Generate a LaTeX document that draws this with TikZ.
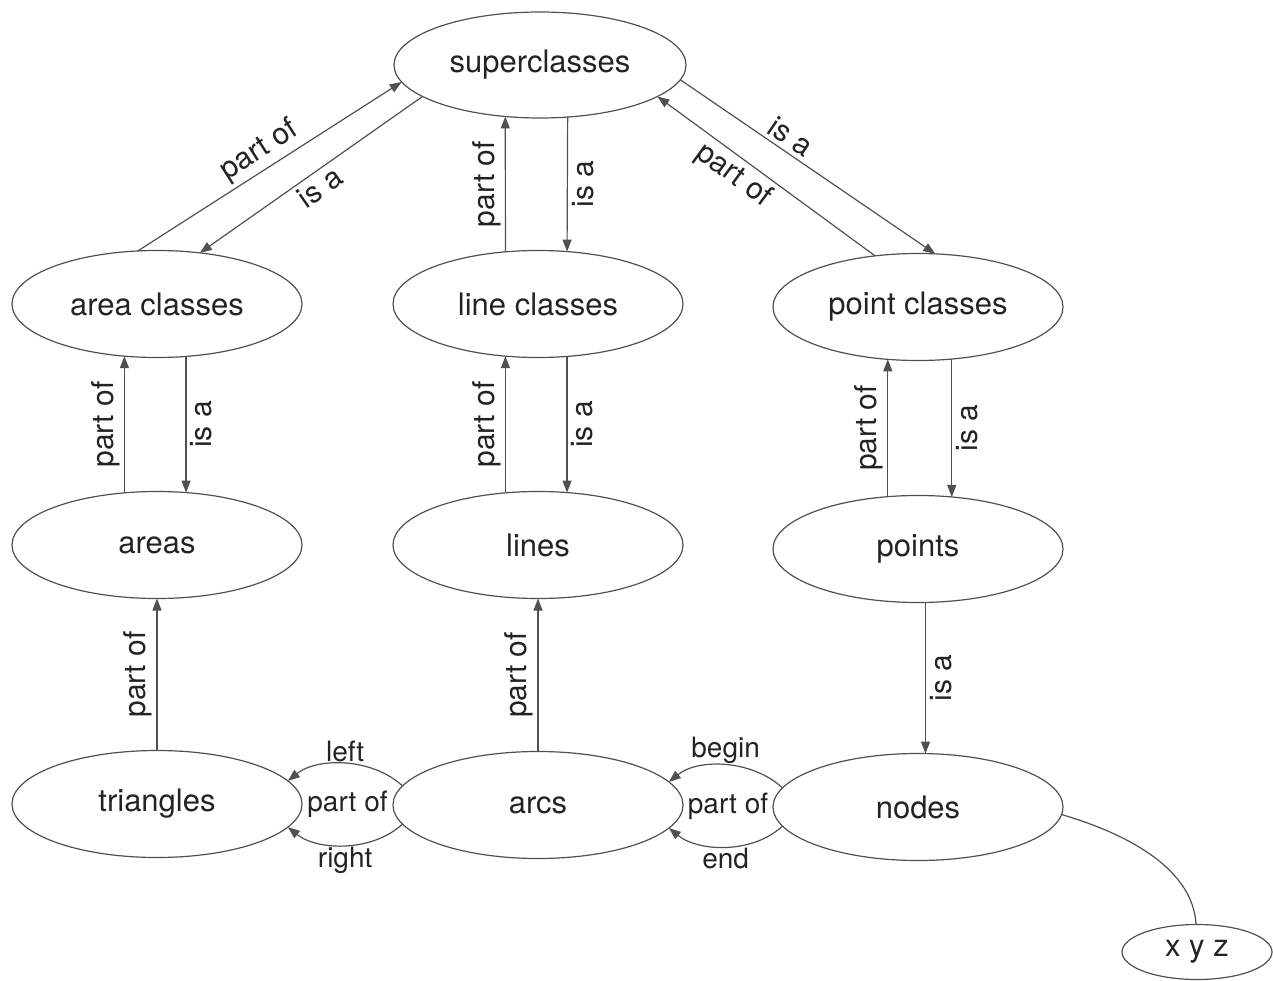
\documentclass[tikz,border=0pt]{standalone}
\usepackage{fontspec}
\setmainfont{TeX Gyre Heros}
\usetikzlibrary{shapes.geometric,arrows.meta,calc}
\definecolor{linegray}{RGB}{80,80,80}
\definecolor{textdark}{RGB}{35,35,35}
\begin{document}
\begin{tikzpicture}[x=1pt,y=-1pt,
  ent/.style={ellipse, draw=linegray, line width=1.2pt, inner sep=0pt, outer sep=0pt,
    minimum width=290pt, minimum height=107pt, text=textdark,
    font=\fontsize{31}{37}\selectfont},
  conn/.style={draw=linegray, line width=1.2pt},
  arr/.style={conn, -{Triangle[length=12pt,width=9pt]}},
  lbl/.style={font=\fontsize{30}{36}\selectfont, text=textdark, inner sep=4pt},
  sm/.style={font=\fontsize{28}{33}\selectfont, text=textdark, inner sep=1pt},
]
\useasboundingbox (0,0) rectangle (1273,981);

% entities
\node[ent, minimum width=292pt, minimum height=106pt] (sup) at (540,65) {superclasses};
\node[ent] (ac) at (157,304) {area classes};
\node[ent] (lc) at (538,304) {line classes};
\node[ent] (pc) at (918,307) {point classes};
\node[ent] (areas) at (157,545) {areas};
\node[ent] (lines) at (538,545) {lines};
\node[ent] (points) at (918,549) {points};
\node[ent] (tri) at (157,804) {triangles};
\node[ent] (arcs) at (538,805) {arcs};
\node[ent] (nodes) at (918,807) {nodes};
\node[ent, minimum width=150pt, minimum height=55pt] (xyz) at (1197,952) {x y z};

% superclasses <-> second row
\draw[arr] (ac.110.5) -- node[lbl, sloped, above] {part of} (sup.187);
\draw[arr] (sup.195.4) -- node[lbl, sloped, below] {is a} (ac.50.2);
\draw[arr] (lc.122.1) -- node[lbl, rotate=90, anchor=south] {part of} (sup.-124.2);
\draw[arr] (sup.-62.6) -- node[lbl, rotate=90, anchor=north] {is a} (lc.61.3);
\draw[arr] (pc.130.4) -- node[lbl, sloped, below, pos=0.6] {part of} (sup.-15.8);
\draw[arr] (sup.-6) -- node[lbl, sloped, above, pos=0.4] {is a} (pc.72.1);

% second row <-> third row
\draw[arr] (areas.122.1) -- node[lbl, rotate=90, anchor=south] {part of} (ac.-122.1);
\draw[arr] (ac.-61.3) -- node[lbl, rotate=90, anchor=north] {is a} (areas.61.3);
\draw[arr] (lines.122.1) -- node[lbl, rotate=90, anchor=south] {part of} (lc.-122.1);
\draw[arr] (lc.-61.3) -- node[lbl, rotate=90, anchor=north] {is a} (lines.61.3);
\draw[arr] (points.120.4) -- node[lbl, rotate=90, anchor=south] {part of} (pc.-120.4);
\draw[arr] (pc.-57.1) -- node[lbl, rotate=90, anchor=north] {is a} (points.57.1);

% third row <-> fourth row
\draw[arr] (tri.north) -- node[lbl, rotate=90, anchor=south] {part of} (areas.south);
\draw[arr] (arcs.north) -- node[lbl, rotate=90, anchor=south] {part of} (lines.south);
\draw[arr] (points.-82.6) -- node[lbl, rotate=90, anchor=north] {is a} (nodes.82.6);

% arcs -> triangles (left / right)
\draw[arr] (arcs.172) .. controls +(-30,-28) and +(30,-24) .. (tri.10)
  node[sm, midway, above] {left};
\draw[arr] (arcs.188) .. controls +(-30,28) and +(30,24) .. (tri.-10)
  node[sm, midway, below] {right};
\node[sm] (po1) at ($(tri.east)!0.5!(arcs.west)$) {part of};

% nodes -> arcs (begin / end)
\draw[arr] (nodes.172) .. controls +(-30,-28) and +(30,-24) .. (arcs.10)
  node[sm, midway, above] {begin};
\draw[arr] (nodes.188) .. controls +(-30,28) and +(30,24) .. (arcs.-10)
  node[sm, midway, below] {end};
\node[sm] (po2) at ($(arcs.east)!0.5!(nodes.west)$) {part of};

% nodes -- xyz
\draw[conn] (nodes.-3) .. controls +(68,20) and +(-3,-55) .. (xyz.92);
\end{tikzpicture}
\end{document}
